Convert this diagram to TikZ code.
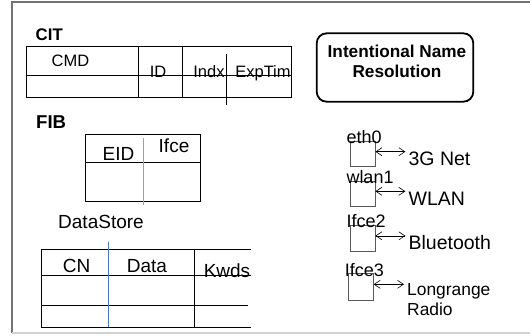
\documentclass[tikz,border=0pt]{standalone}
\usepackage{fontspec}
\setmainfont{Liberation Sans}
\usetikzlibrary{arrows.meta}
\definecolor{fibblue}{HTML}{7FA6D8}
\definecolor{dsblue}{HTML}{4A7CC4}
\newcommand{\fsz}[2]{\fontsize{#1}{#2}\selectfont}

\begin{document}
\begin{tikzpicture}[x=1pt,y=-1pt,
  >={Straight Barb[length=6pt,width=8pt]},
  ttl/.style={inner sep=0pt,anchor=base west},
  cell/.style={inner sep=0pt,anchor=base,font=\fsz{19}{21}},
  tbl/.style={line width=0.9pt},
  ifc/.style={draw=black!65,line width=0.8pt,minimum width=25pt,inner sep=0pt},
  tag/.style={inner sep=0pt,anchor=base west,font=\fsz{18}{20}},
  net/.style={inner sep=0pt,anchor=base west,font=\fsz{19.5}{21}}]
  \useasboundingbox (0,0) rectangle (530,335);
  % frame
  \draw[black!55,line width=1.4pt] (530,2) -- (12,2) -- (12,333);
  \draw[black!18,line width=1.4pt] (12,333) -- (530,333);
  % CIT
  \node[ttl,font=\fsz{16.8}{18}\bfseries] (cit) at (35.5,40) {CIT};
  \draw[tbl] (26.7,46.7) rectangle (291.7,97.3);
  \draw[tbl] (26.7,75.3) -- (291.7,75.3);
  \foreach \x in {138,182.7} \draw[tbl] (\x,46.7) -- (\x,97.3);
  \draw[tbl] (226.7,54) -- (226.7,105);
  \node[cell,font=\fsz{16.5}{18}] (cmd) at (70.5,66) {CMD};
  \foreach \t/\x in {ID/158,Indx/209,ExpTim/263}
    \node[cell,font=\fsz{16.5}{18}] (c\t) at (\x,77) {\t};
  % FIB
  \node[ttl,font=\fsz{18.6}{20}\bfseries] (fib) at (36,128) {FIB};
  \draw[tbl] (85,134) rectangle (200.7,201);
  \draw[tbl] (85,162.3) -- (200.7,162.3);
  \draw[fibblue,line width=0.9pt] (143.3,138) -- (143.3,205);
  \node[cell] (eid) at (118.5,160) {EID};
  \node[cell] (ifce) at (174,152) {Ifce};
  % DataStore
  \node[cell,anchor=base west] (ds) at (58,228) {DataStore};
  \draw[tbl] (250.7,249.3) -- (41.7,249.3) -- (41.7,327.3) -- (250.7,327.3);
  \draw[tbl] (41.7,275.7) -- (250.7,275.7);
  \draw[tbl] (41.7,305.7) -- (248.3,305.7);
  \draw[tbl] (194,249.3) -- (194,327.3);
  \draw[dsblue,line width=0.9pt] (108.7,241.7) -- (108.7,327.3);
  \node[cell] (cn) at (76.7,272) {CN};
  \node[cell] (data) at (147,272) {Data};
  \node[cell] (kwds) at (227,277) {Kwds};
  % name resolution
  \node[draw,line width=1.8pt,rounded corners=10pt,minimum width=156.6pt,
    minimum height=68.4pt,inner sep=0pt] (inr) at (395,67.5) {};
  \node[align=center,inner sep=0pt,font=\fsz{17.2}{20}\bfseries] (inrtext)
    at (397,61.5) {Intentional Name\\Resolution};
  % interfaces
  \foreach \i/\y/\h/\nm/\lk in {1/153.9/24.3/eth0/3G Net,2/193.5/25/wlan1/WLAN,
      3/238/26/Ifce2/Bluetooth}{
    \node[ifc,minimum height=\h pt] (b\i) at (362.5,\y) {};
    \node[tag] (t\i) at ([xshift=-3.3pt,yshift=-2.5pt]b\i.north west) {\nm};
    \node[net] (n\i) at ([xshift=33pt,yshift=-11.5pt]b\i.east) {\lk};
    \draw[<->,line width=0.6pt] ([yshift=2.2pt]b\i.east) -- ([yshift=2.2pt,xshift=-3pt]b\i.east -| n\i.west);
  }
  \node[ifc,minimum height=27pt] (b4) at (360.8,286.5) {};
  \node[tag] (t4) at ([xshift=-3.3pt,yshift=-3.7pt]b4.north west) {Ifce3};
  \node[inner sep=0pt,anchor=base west,align=left,font=\fsz{17.4}{20}] (n4)
    at (407,315.5) {Longrange\\Radio};
  \draw[<->,line width=0.6pt] ([yshift=2.2pt]b4.east) -- ([yshift=2.2pt,xshift=-3pt]b4.east -| n4.west);
\end{tikzpicture}
\end{document}
